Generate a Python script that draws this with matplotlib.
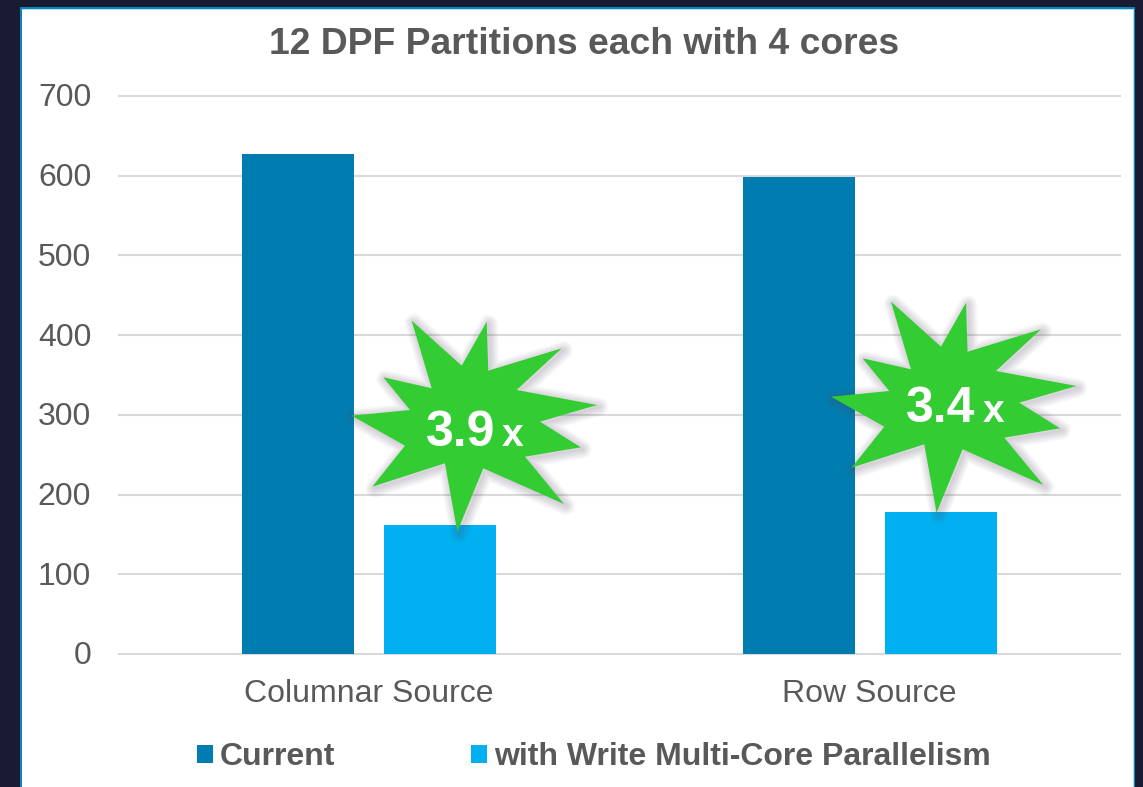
import matplotlib.pyplot as plt
from matplotlib.patches import Polygon, Rectangle
from matplotlib.transforms import ScaledTranslation

plt.rcParams['font.family'] = ['Liberation Sans', 'DejaVu Sans']

categories = ["Columnar Source", "Row Source"]
current = [627, 598]
write_parallel = [162, 178]
series_names = ["Current", "with Write Multi-Core Parallelism"]
y_ticks = [0, 100, 200, 300, 400, 500, 600, 700]
speedups = ["3.9", "3.4"]

W, H = 1143, 787
GREY = "#595959"
DARK_BLUE = "#007DB0"
LIGHT_BLUE = "#00B0F0"

# burst outline in pixels, relative to the first burst
star = [(411.7, 320.7), (461.7, 365.7), (486.7, 321.7), (488.3, 370.7), (561.7, 348.3),
        (516.7, 390), (597, 405), (540, 421.7), (580.7, 447.3), (525, 456.7),
        (564, 504), (483.3, 468.3), (457.3, 531.7), (445, 463.3), (372.3, 486.7),
        (405, 445.7), (351.7, 415.7), (410, 410), (383.3, 377.3), (431.7, 388.3)]
star_shift = [(0, 0), (479.3, -19)]
label_pos = [(426, 445.7), (906, 421.7)]
x_pos = [(502, 445.7), (983, 421.7)]

fig = plt.figure(figsize=(W / 100, H / 100), dpi=100, facecolor="#191B33")

# panel behind the chart
bg = fig.add_axes([0, 0, 1, 1], zorder=0)
bg.set_xlim(0, W)
bg.set_ylim(H, 0)
bg.axis("off")
bg.add_patch(Rectangle((20, 7), 1115, H, fc="#0A86B4", ec="none"))
bg.add_patch(Rectangle((21.5, 8.5), 1112, H, fc="#A8E6F5", ec="none"))
bg.add_patch(Rectangle((21.5, 9.5), 1111, H, fc="white", ec="none"))

# main chart
ax = fig.add_axes([119 / W, 1 - 654 / H, 1001 / W, 558 / H], zorder=1)
ax.patch.set_visible(False)
width = 0.224
offset = 0.142
for i in range(len(categories)):
    ax.bar(i - offset, current[i], width, color=DARK_BLUE, zorder=3,
           label=series_names[0] if i == 0 else None)
    ax.bar(i + offset, write_parallel[i], width, color=LIGHT_BLUE, zorder=3,
           label=series_names[1] if i == 0 else None)
ax.set_xlim(-0.5, 1.5)
ax.set_ylim(0, 700)
ax.set_yticks(y_ticks)
ax.set_xticks(range(len(categories)))
ax.set_xticklabels(categories)
ax.tick_params(axis="both", length=0, labelsize=23, labelcolor=GREY)
ax.tick_params(axis="y", pad=20)
ax.tick_params(axis="x", pad=17.7)
ax.grid(axis="y", color="#D9D9D9", lw=1.5)
ax.set_axisbelow(True)
for line in ax.get_ygridlines():
    line.set_clip_on(False)
for s in ax.spines.values():
    s.set_visible(False)
# nudge the y labels up a pixel
nudge = ScaledTranslation(0, 1 / 100, fig.dpi_scale_trans)
for lab in ax.get_yticklabels():
    lab.set_transform(lab.get_transform() + nudge)

leg = ax.legend(loc="center left", bbox_to_anchor=(197 / W, 1 - 757 / H),
                bbox_transform=fig.transFigure, ncol=2, frameon=False, borderpad=0,
                borderaxespad=0, handlelength=0.5, handleheight=0.5, handletextpad=0.2,
                columnspacing=4.28, prop={"weight": "bold", "size": 23})
for t in leg.get_texts():
    t.set_color(GREY)

# title and bursts sit on top of everything
top = fig.add_axes([0, 0, 1, 1], zorder=2)
top.set_xlim(0, W)
top.set_ylim(H, 0)
top.axis("off")
top.text(584.5, 54, "12 DPF Partitions each with 4 cores", ha="center", va="baseline",
         fontsize=26.85, fontweight="bold", color=GREY)

for k, (dx, dy) in enumerate(star_shift):
    pts = [(x + dx, y + dy) for x, y in star]
    # soft shadow from stacked translucent outlines
    shadow = [(x + 2, y + 2) for x, y in pts]
    for lw in range(1, 15, 2):
        top.add_patch(Polygon(shadow, closed=True, fc="none", ec="#5A4A66", lw=lw,
                              alpha=0.04, joinstyle="round"))
    top.add_patch(Polygon(pts, closed=True, fc="#33CC33", ec="none"))
    top.text(label_pos[k][0], label_pos[k][1], speedups[k], ha="left", va="baseline",
             fontsize=36, fontweight="bold", color="white")
    top.text(x_pos[k][0], x_pos[k][1], "x", ha="left", va="baseline",
             fontsize=28, fontweight="bold", color="white")

fig.savefig("out.png", dpi=100, facecolor=fig.get_facecolor())
